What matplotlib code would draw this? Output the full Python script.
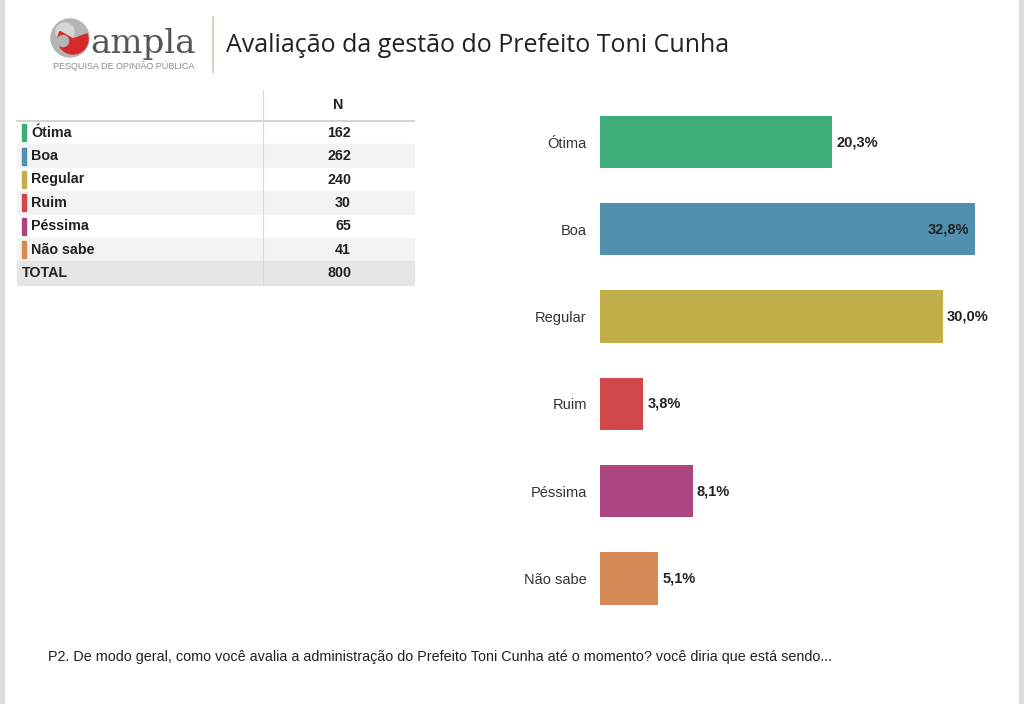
import matplotlib
matplotlib.use("Agg")
import matplotlib.pyplot as plt
from matplotlib.patches import Rectangle, Circle, Wedge

# dados
categorias = ["Ótima", "Boa", "Regular", "Ruim", "Péssima", "Não sabe"]
percentuais = [20.3, 32.8, 30.0, 3.8, 8.1, 5.1]
contagens = [162, 262, 240, 30, 65, 41]
total = 800
cores = ["#3dae78", "#5190ae", "#c2ae48", "#d2484a", "#ad4482", "#d58a55"]

titulo = "Avaliação da gestão do Prefeito Toni Cunha"
pergunta = ("P2. De modo geral, como você avalia a administração do Prefeito "
            "Toni Cunha até o momento? você diria que está sendo...")

W, H = 1024, 704
plt.rcParams["font.family"] = ["Liberation Sans", "DejaVu Sans"]

fig = plt.figure(figsize=(W / 100, H / 100), dpi=100)
fig.patch.set_facecolor("white")


def fx(x):
    return x / W


def fy(y):
    return 1 - y / H


# bordas cinzas da captura
fig.patches.append(Rectangle((0, 0), fx(4), 1, transform=fig.transFigure,
                             color="#dcdcdc", zorder=0))
fig.patches.append(Rectangle((fx(1019), 0), fx(5), 1, transform=fig.transFigure,
                             color="#dcdcdc", zorder=0))

#__________________________________________________________________
# cabecalho: logo + titulo

ax_logo = fig.add_axes([fx(50), fy(58), fx(40), 40 / H])
ax_logo.set_xlim(-1, 1)
ax_logo.set_ylim(-1, 1)
ax_logo.set_aspect("equal")
ax_logo.axis("off")
ax_logo.add_patch(Circle((0, 0), 0.95, color="#b5b5b5"))
ax_logo.add_patch(Circle((-0.25, 0.3), 0.45, color="#d6d6d6"))
ax_logo.add_patch(Wedge((0.15, -0.05), 0.75, 150, 20, color="#d42a2a"))
ax_logo.add_patch(Circle((-0.35, -0.15), 0.28, color="#b5b5b5"))

fig.text(fx(90), fy(53), "ampla", fontsize=24.5, family="DejaVu Serif",
         color="#555555", va="baseline", ha="left")
fig.text(fx(53), fy(66), "PESQUISA DE OPINIÃO PÚBLICA", fontsize=6.5,
         color="#8a8a8a", va="center", ha="left")
fig.lines.append(plt.Line2D([fx(213), fx(213)], [fy(17), fy(72)],
                            transform=fig.transFigure, color="#d8c8b0", lw=1.2))
fig.text(fx(226), fy(46), titulo, fontsize=18, family="Open Sans",
         color="#222222", va="center", ha="left")

#__________________________________________________________________
# tabela

tx0, tx1 = 17, 414
row_h = 23.4
top = 121
linhas = list(zip(categorias, contagens, cores)) + [("TOTAL", total, None)]

for i, (nome, n, cor) in enumerate(linhas):
    y0 = top + i * row_h
    yc = y0 + row_h / 2
    if nome == "TOTAL":
        fundo = "#e6e6e6"
    elif i % 2 == 1:
        fundo = "#f3f3f3"
    else:
        fundo = "white"
    fig.patches.append(Rectangle((fx(tx0), fy(y0 + row_h)), fx(tx1 - tx0), row_h / H,
                                 transform=fig.transFigure, color=fundo, zorder=1))
    if cor is not None:
        fig.patches.append(Rectangle((fx(22), fy(yc + 8.5)), fx(3.5), 17 / H,
                                     transform=fig.transFigure, color=cor, zorder=2))
        fig.text(fx(31), fy(yc), nome, fontsize=10.3, weight="bold",
                 va="center", ha="left", color="#222222")
    else:
        fig.text(fx(22), fy(yc), nome, fontsize=10.3, weight="bold",
                 va="center", ha="left", color="#222222")
    fig.text(fx(351), fy(yc), str(n), fontsize=10.3, weight="bold",
             va="center", ha="right", color="#222222")

fig.text(fx(338), fy(105), "N", fontsize=10.3, weight="bold",
         va="center", ha="center", color="#222222")
fig.lines.append(plt.Line2D([fx(tx0), fx(tx1)], [fy(top), fy(top)],
                            transform=fig.transFigure, color="#cfcfcf", lw=1.3, zorder=3))
fig.lines.append(plt.Line2D([fx(263), fx(263)], [fy(90), fy(top + 7 * row_h)],
                            transform=fig.transFigure, color="#d8d8d8", lw=0.8, zorder=3))

#__________________________________________________________________
# grafico de barras

ax = fig.add_axes([fx(600), fy(622), fx(400), (622 - 98.4) / H])
pos = list(range(len(categorias)))
ax.barh(pos, percentuais, height=0.6, color=cores)
ax.set_xlim(0, 35)
ax.set_ylim(len(categorias) - 0.5, -0.5)
ax.set_yticks(pos)
ax.set_yticklabels(categorias, fontsize=10.5, color="#333333")
ax.tick_params(axis="y", length=0, pad=9.5)
ax.set_xticks([])
for s in ax.spines.values():
    s.set_visible(False)

for p, v in zip(pos, percentuais):
    rotulo = f"{v:.1f}%".replace(".", ",")
    if v > 32:
        ax.annotate(rotulo, (v, p), xytext=(-4, 0), textcoords="offset points",
                    ha="right", va="center", fontsize=10.5, weight="bold", color="#222222")
    else:
        ax.annotate(rotulo, (v, p), xytext=(3, 0), textcoords="offset points",
                    ha="left", va="center", fontsize=10.5, weight="bold", color="#222222")

#__________________________________________________________________
# rodape

fig.text(fx(48), fy(657), pergunta, fontsize=10.4, va="center", ha="left",
         color="#222222")

fig.savefig("out.png", dpi=100)
